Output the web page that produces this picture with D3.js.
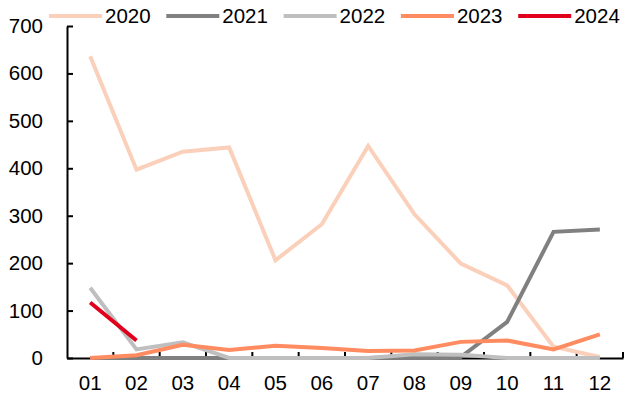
<!DOCTYPE html>
<html>
<head>
<meta charset="utf-8">
<script src="https://cdn.jsdelivr.net/npm/d3@7"></script>
<style>
  html, body { margin: 0; padding: 0; background: #fff; }
  svg { display: block; font-family: "Liberation Sans", Arial, sans-serif; }
</style>
</head>
<body>
<svg id="chart" width="624" height="399"></svg>
<script>
// Monthly values per year
const months = ["01","02","03","04","05","06","07","08","09","10","11","12"];
const years = ["2020","2021","2022","2023","2024"];
const v2020 = [636, 397, 435, 444, 206, 282, 447, 303, 199, 153, 24, 2];
const v2021 = [0, 0, 0, 0, 0, 0, 0, 2, 2, 76, 266, 271];
const v2022 = [148, 18, 33, 0, 0, 0, 0, 8, 7, 0, 0, 0];
const v2023 = [0, 6, 28, 17, 26, 21, 15, 16, 34, 37, 18, 50];
const v2024 = [117, 37];
const yTicks = [0, 100, 200, 300, 400, 500, 600, 700];
const colors = ["#fbd0bb", "#808080", "#bfbfbf", "#ff8c61", "#e0001b"];

const seriesValues = [v2020, v2021, v2022, v2023, v2024];
const fontSize = 20.5;

const svg = d3.select("#chart");
const margin = { left: 67, right: 1, top: 26, bottom: 41 };
const W = 624, H = 399;

const x = d3.scaleBand().domain(months).range([margin.left, W - margin.right]);
const y = d3.scaleLinear().domain([0, 700]).range([H - margin.bottom, margin.top]);

// Axes
const yAxis = svg.append("g")
  .attr("transform", `translate(${margin.left},0)`)
  .call(d3.axisLeft(y).tickValues(yTicks).tickSizeInner(-6).tickSizeOuter(0).tickPadding(24));
yAxis.select(".domain").attr("stroke", "#000").attr("stroke-width", 2);
yAxis.selectAll(".tick line").attr("stroke", "#000").attr("stroke-width", 2);
yAxis.selectAll("text").attr("font-size", fontSize).attr("fill", "#000")
  .attr("font-family", "Liberation Sans, Arial, sans-serif");

const xAxis = svg.append("g")
  .attr("transform", `translate(0,${y(0)})`)
  .call(d3.axisBottom(x).tickSize(0).tickPadding(17));
xAxis.select(".domain").attr("stroke", "#000").attr("stroke-width", 2);
xAxis.selectAll("text").attr("font-size", fontSize).attr("fill", "#000")
  .attr("font-family", "Liberation Sans, Arial, sans-serif");

// Tick marks on category boundaries
svg.append("g").selectAll("line")
  .data(months)
  .join("line")
  .attr("x1", d => x(d) + x.bandwidth())
  .attr("x2", d => x(d) + x.bandwidth())
  .attr("y1", y(0))
  .attr("y2", y(0) - 6)
  .attr("stroke", "#000")
  .attr("stroke-width", 2);

// Lines
const line = d3.line()
  .x((d, i) => x(months[i]) + x.bandwidth() / 2)
  .y(d => y(d));

svg.append("g").selectAll("path")
  .data(seriesValues)
  .join("path")
  .attr("d", d => line(d))
  .attr("fill", "none")
  .attr("stroke", (d, i) => colors[i])
  .attr("stroke-width", 4)
  .attr("stroke-linejoin", "miter")
  .attr("stroke-linecap", "butt");

// Legend
const legend = svg.append("g");
const lx0 = 49, step = 117.3, ly = 16;
years.forEach((yr, i) => {
  const gx = lx0 + i * step;
  legend.append("line")
    .attr("x1", gx).attr("x2", gx + 53)
    .attr("y1", ly).attr("y2", ly)
    .attr("stroke", colors[i]).attr("stroke-width", 4);
  legend.append("text")
    .attr("x", gx + 56).attr("y", ly)
    .attr("dy", "0.35em")
    .attr("font-size", fontSize)
    .attr("fill", "#000")
    .text(yr);
});
</script>
</body>
</html>
